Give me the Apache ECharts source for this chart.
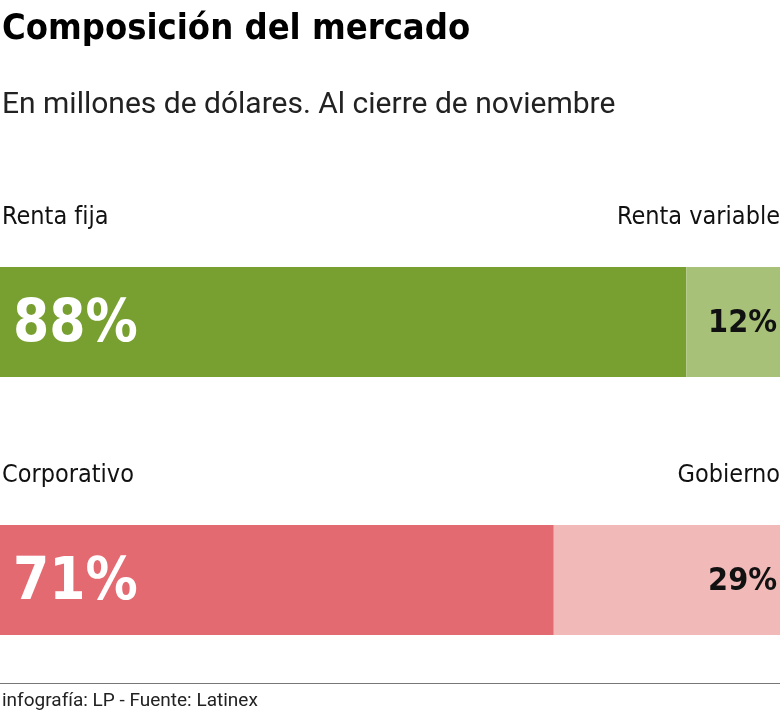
<!DOCTYPE html>
<html lang="es">
<head>
  <meta charset="UTF-8">
  <title>Composición del mercado</title>
  <script src="https://cdn.jsdelivr.net/npm/echarts@6/dist/echarts.min.js"></script>
  <style>
    html, body { margin: 0; padding: 0; background: #fff; }
    #main { width: 780px; height: 713px; }
  </style>
</head>
<body>
<div id="main"></div>
<script>
  // datos
  var rows = ['Tipo de renta', 'Sector'];
  var leftNames = ['Renta fija', 'Corporativo'];
  var rightNames = ['Renta variable', 'Gobierno'];
  var leftValues = [88, 71];
  var rightValues = [12, 29];
  var leftColors = ['#78a030', '#e46a72'];
  var rightColors = ['#a8c178', '#f1b9b7'];

  var cond = '"DejaVu Sans Condensed", "Liberation Sans Narrow", sans-serif';
  var grids = [], xAxes = [], yAxes = [], series = [], graphics = [];
  var tops = [267, 525];

  rows.forEach(function (r, i) {
    grids.push({ left: 0, right: 0, top: tops[i], height: 110 });
    xAxes.push({ gridIndex: i, type: 'value', min: 0, max: 100, show: false });
    yAxes.push({ gridIndex: i, type: 'category', data: [r], show: false });
    series.push({
      type: 'bar', stack: 's' + i, xAxisIndex: i, yAxisIndex: i, barWidth: 110,
      data: [leftValues[i]], itemStyle: { color: leftColors[i] },
      label: { show: true, position: 'insideLeft', offset: [8, 4], formatter: '{c}%',
        color: '#fff', fontFamily: cond, fontWeight: 'bold', fontSize: 58 },
      animation: false
    });
    series.push({
      type: 'bar', stack: 's' + i, xAxisIndex: i, yAxisIndex: i, barWidth: 110,
      data: [rightValues[i]], itemStyle: { color: rightColors[i] },
      label: { show: true, position: 'insideRight', offset: [2, 2], formatter: '{c}%',
        color: '#111', fontFamily: cond, fontWeight: 'bold', fontSize: 32 },
      animation: false
    });
    graphics.push({ type: 'text', left: 2, top: tops[i] - 62,
      style: { text: leftNames[i], font: '25px ' + cond, fill: '#111' } });
    graphics.push({ type: 'text', right: 0, top: tops[i] - 62,
      style: { text: rightNames[i], font: '25px ' + cond, fill: '#111' } });
  });

  graphics.push({ type: 'text', left: 2, top: 12,
    style: { text: 'Composición del mercado', font: 'bold 36px ' + cond, fill: '#000' } });
  graphics.push({ type: 'text', left: 2, top: 90,
    style: { text: 'En millones de dólares. Al cierre de noviembre', font: '30px "Roboto", sans-serif', fill: '#222' } });
  graphics.push({ type: 'rect', left: 0, top: 683, shape: { width: 780, height: 1 }, style: { fill: '#777' } });
  graphics.push({ type: 'text', left: 2, top: 692,
    style: { text: 'infografía: LP - Fuente: Latinex', font: '19px "Roboto", sans-serif', fill: '#222' } });

  echarts.init(document.getElementById('main')).setOption({
    animation: false,
    grid: grids, xAxis: xAxes, yAxis: yAxes, series: series, graphic: graphics
  });
</script>
</body>
</html>
